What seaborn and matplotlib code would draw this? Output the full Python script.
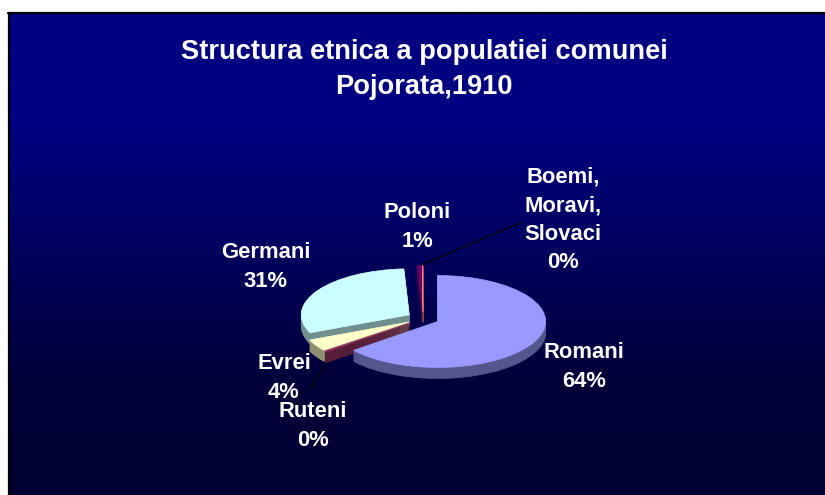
import numpy as np
import matplotlib
matplotlib.use("Agg")
import matplotlib.pyplot as plt
import matplotlib.colors as mc
from matplotlib.lines import Line2D
import seaborn as sns

names = ["Romani", "Ruteni", "Evrei", "Germani", "Poloni", "Boemi,\nMoravi,\nSlovaci"]
values = [64.2, 0.3, 4.1, 30.6, 0.7, 0.1]
hexes = ["#9999FF", "#993366", "#FFFFCC", "#CCFFFF", "#660066", "#FF8080"]
title = "Structura etnica a populatiei comunei\nPojorata,1910"

sns.set_theme(style="white")
plt.rcParams["font.family"] = ["Liberation Sans", "DejaVu Sans"]
palette = sns.color_palette(hexes)

W, H = 825, 495
fig = plt.figure(figsize=(W / 100, H / 100), dpi=100, facecolor="white")

def px(x, y):
    return x / W, 1 - y / H

# gradient panel
bg = fig.add_axes([8 / W, 0, 1 - 8 / W, 1 - 12 / H], zorder=0)
cmap = mc.LinearSegmentedColormap.from_list(
    "bg", [(0, "#000080"), (0.24, "#000080"), (0.78, "#000038"), (1, "#000033")])
bg.imshow(np.linspace(0, 1, 256)[:, None], aspect="auto", cmap=cmap)
bg.set_axis_off()
fig.add_artist(Line2D([9 / W, 9 / W], [0, 1 - 13 / H], color="black", lw=1.6, zorder=1))
fig.add_artist(Line2D([8 / W, 1], [1 - 13 / H, 1 - 13 / H], color="black", lw=1.6, zorder=1))

# pie: one data unit = rx px horizontally, ry px vertically
cx, cy, rx, ry, depth = 423.0, 318.5, 108.0, 46.0, 11
ax = fig.add_axes([0, 0, 1, 1], zorder=2)
ax.patch.set_alpha(0)
side = [tuple(np.array(c) * 0.56) for c in palette]
explode = [0.15] * len(values)
for k in range(depth, -1, -1):
    cols = side if k else palette
    wedges, _ = ax.pie(values, colors=cols, explode=explode, startangle=90,
                       counterclock=False, center=(0, -k / ry), radius=1)
    for w, c in zip(wedges, cols):
        w.set_edgecolor(c)
        w.set_linewidth(0.5)
ax.set_aspect("auto")
ax.set_xlim(-cx / rx, (W - cx) / rx)
ax.set_ylim(-(H - cy) / ry, cy / ry)
ax.set_axis_off()

# title and labels
fig.text(*px(424, 69.5), title, color="white", fontsize=19.6, fontweight="bold",
         ha="center", va="center", linespacing=1.42, zorder=5)
label_pos = [(584, 367), (313, 426), (284, 378), (266, 267), (417, 227), (563, 220)]
for n, v, (x, y) in zip(names, values, label_pos):
    fig.text(*px(x, y), f"{n}\n{round(v)}%", color="white", fontsize=15.8, fontweight="bold",
             ha="center", va="center", linespacing=1.46, zorder=5)

# leader lines
for (x0, y0), (x1, y1) in [((421, 265), (522, 222)), ((327, 363), (311, 388))]:
    fig.add_artist(Line2D([x0 / W, x1 / W], [1 - y0 / H, 1 - y1 / H], color="black", lw=0.9, zorder=4))

fig.savefig("out.png", dpi=100, facecolor="white")
